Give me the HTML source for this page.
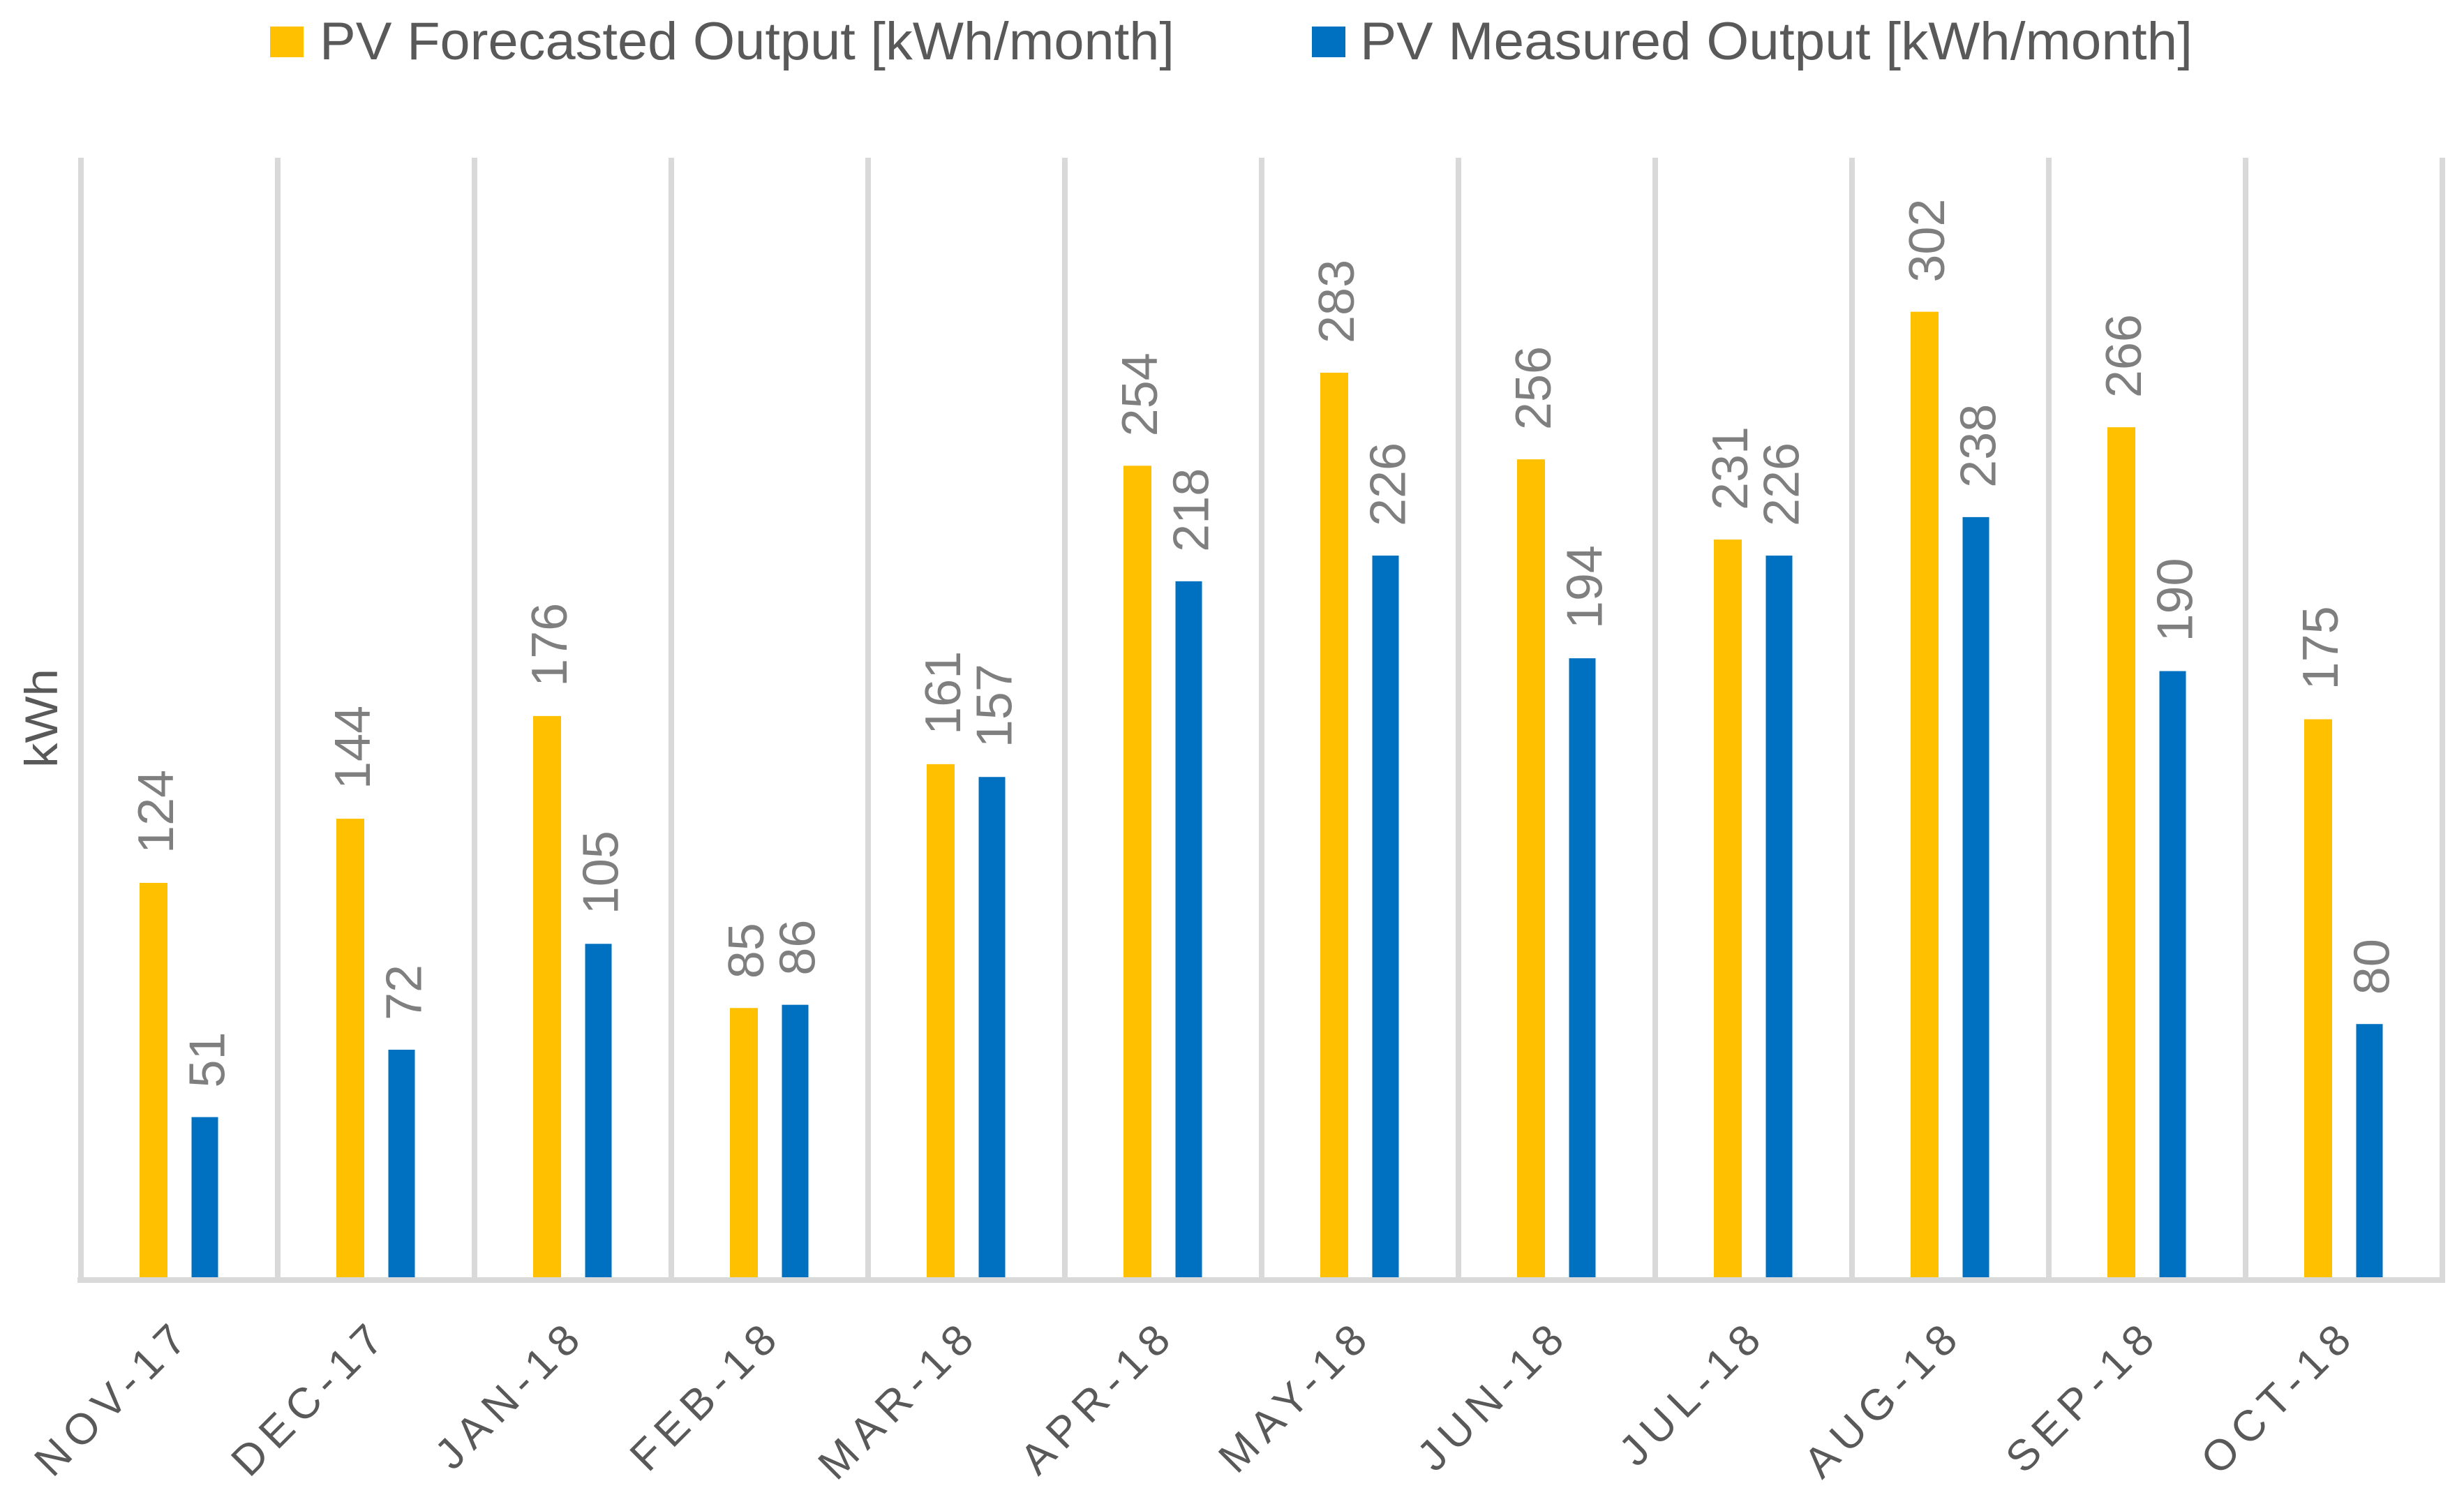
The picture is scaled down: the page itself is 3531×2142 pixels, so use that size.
<!DOCTYPE html>
<html lang="en">
<head>
<meta charset="utf-8">
<title>PV Forecasted vs Measured Output</title>
<style>
html,body{margin:0;padding:0;background:#fff;width:3531px;height:2142px;overflow:hidden}
svg{display:block}
text{font-family:"Liberation Sans",sans-serif}
</style>
</head>
<body>
<svg id="chart" xmlns="http://www.w3.org/2000/svg" width="3531" height="2142" viewBox="0 0 3531 2142">
  <g id="grid"></g>
  <g id="bars"></g>
  <rect x="111" y="1830" width="3393" height="8" fill="#d9d9d9"></rect>
  <g id="labels"></g>
  <g id="xticks"></g>
  <text transform="translate(82,1029) rotate(-90)" text-anchor="middle" font-size="66" fill="#595959" textLength="142" lengthAdjust="spacingAndGlyphs">kWh</text>
  <g>
    <rect x="387" y="38" width="48" height="44" fill="#ffc000"></rect>
    <text x="458" y="85" font-size="76" fill="#595959" textLength="1225" lengthAdjust="spacingAndGlyphs">PV Forecasted Output [kWh/month]</text>
  </g>
  <g>
    <rect x="1880" y="38" width="48" height="44" fill="#0070c0"></rect>
    <text x="1949" y="85" font-size="76" fill="#595959" textLength="1193" lengthAdjust="spacingAndGlyphs">PV Measured Output [kWh/month]</text>
  </g>
</svg>
<script>
const categories = ["NOV-17","DEC-17","JAN-18","FEB-18","MAR-18","APR-18","MAY-18","JUN-18","JUL-18","AUG-18","SEP-18","OCT-18"];
const forecasted = [124,144,176,85,161,254,283,256,231,302,266,175];
const measured = [51,72,105,86,157,218,226,194,226,238,190,80];

const NS = "http://www.w3.org/2000/svg";
const plotLeft = 116, plotRight = 3500, plotTop = 226, plotZero = 1835, yMax = 350;
const bandW = (plotRight - plotLeft) / categories.length;
function xBand(i){ return plotLeft + i * bandW; }
function yVal(v){ return plotZero - (v / yMax) * (plotZero - plotTop); }
function mk(tag, attrs){
  const el = document.createElementNS(NS, tag);
  for (const k in attrs) el.setAttribute(k, attrs[k]);
  return el;
}
const gridG = document.getElementById('grid');
const barsG = document.getElementById('bars');
const labelsG = document.getElementById('labels');
const ticksG = document.getElementById('xticks');

for (let i = 0; i <= categories.length; i++) {
  const line = mk('rect', {x: xBand(i) - 4, y: plotTop, width: 8, height: 1608, fill: '#d9d9d9'});
  
  
  gridG.appendChild(line);
}

function drawSeries(values, offset, barW, color, seriesName){
  values.forEach(function(v, i){
    const cx = xBand(i) + offset;
    const top = yVal(v);
    const bar = mk('rect', {x: cx - barW / 2, y: top, width: barW, height: plotZero - top, fill: color});
    
    
    barsG.appendChild(bar);
    const lx = cx + 28, ly = top - 42;
    const t = mk('text', {transform: 'translate(' + lx + ',' + ly + ') rotate(-90)', 'font-size': 72, fill: '#7f7f7f'});
    
    
    t.textContent = String(v);
    labelsG.appendChild(t);
  });
}
drawSeries(forecasted, 104, 40, '#ffc000', 'forecasted');
drawSeries(measured, 177.5, 38, '#0070c0', 'measured');

categories.forEach(function(c, i){
  const px = xBand(i) + bandW / 2 + 21, py = 1916;
  const t = mk('text', {transform: 'translate(' + px + ',' + py + ') rotate(-45)', 'text-anchor': 'end', 'font-size': 62, 'letter-spacing': 11, fill: '#595959'});
  
  
  t.textContent = c;
  ticksG.appendChild(t);
});
</script>
</body>
</html>
